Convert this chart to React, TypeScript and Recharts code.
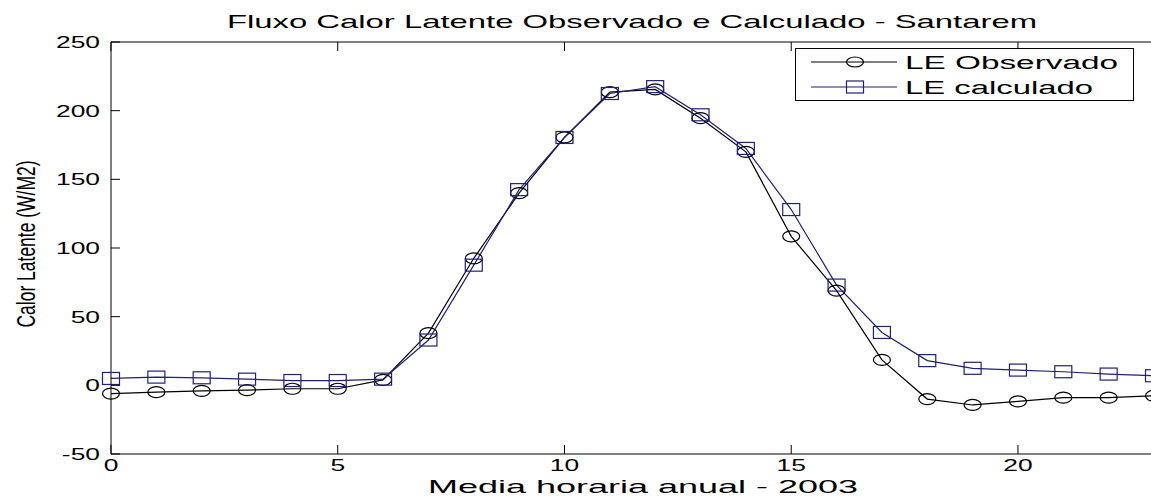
import React from "react";
import { LineChart, Line, XAxis, YAxis } from "recharts";

const hours = [0, 1, 2, 3, 4, 5, 6, 7, 8, 9, 10, 11, 12, 13, 14, 15, 16, 17, 18, 19, 20, 21, 22, 23];
const observed = [-6, -5, -4, -3.5, -2.5, -2.5, 4, 38, 92.5, 140, 180.5, 213.5, 215.5, 194.5, 170, 108.5, 69, 18.5, -10, -14.3, -11.7, -9, -9, -7.6];
const calculated = [5, 6, 5.5, 4.5, 3.5, 3.5, 4.5, 33, 87.5, 142.5, 180.5, 212.5, 217.5, 197, 172.5, 128, 73, 38.5, 18, 12.4, 11.1, 9.9, 8.2, 7];
const xTicks = [0, 5, 10, 15, 20];
const yTicks = [-50, 0, 50, 100, 150, 200, 250];
const seriesNames = ["LE Observado", "LE calculado"];
const titleText = "Fluxo Calor Latente Observado e Calculado - Santarem";
const xLabelText = "Media horaria anual - 2003";
const yLabelText = "Calor Latente (W/M2)";

const data = hours.map((h, i) => ({ h, obs: observed[i], calc: calculated[i] }));

const FONT = "'Liberation Sans', Arial, sans-serif";
const BLACK = "#000000";
const NAVY = "#20207a";

const YTickLeft = (props: any) => {
  const { x, y, payload } = props;
  return (
    <g>
      <line x1={x} y1={y} x2={x + 9} y2={y} stroke={BLACK} strokeWidth={1} />
      <text
        transform={`translate(${x - 11},${y + 6}) scale(1.65,1)`}
        textAnchor="end"
        fontSize={16}
        fontFamily={FONT}
        fill={BLACK}
      >
        {payload.value}
      </text>
    </g>
  );
};

const YTickRight = (props: any) => {
  const { x, y } = props;
  return <line x1={x - 9} y1={y} x2={x} y2={y} stroke={BLACK} strokeWidth={1} />;
};

const XTickBottom = (props: any) => {
  const { x, y, payload } = props;
  return (
    <g>
      <line x1={x} y1={y} x2={x} y2={y - 9} stroke={BLACK} strokeWidth={1} />
      <text
        transform={`translate(${x},${y + 17}) scale(1.65,1)`}
        textAnchor="middle"
        fontSize={16}
        fontFamily={FONT}
        fill={BLACK}
      >
        {payload.value}
      </text>
    </g>
  );
};

const XTickTop = (props: any) => {
  const { x, y } = props;
  return <line x1={x} y1={y} x2={x} y2={y + 9} stroke={BLACK} strokeWidth={1} />;
};

const CircleDot = (props: any) => {
  const { cx, cy, index } = props;
  if (cx == null || cy == null) return <g key={`c${index}`} />;
  return <ellipse key={`c${index}`} cx={cx} cy={cy} rx={8.5} ry={5.5} fill="none" stroke={BLACK} strokeWidth={1.2} />;
};

const SquareDot = (props: any) => {
  const { cx, cy, index } = props;
  if (cx == null || cy == null) return <g key={`s${index}`} />;
  return <rect key={`s${index}`} x={cx - 8.5} y={cy - 6} width={17} height={12} fill="none" stroke={NAVY} strokeWidth={1.2} />;
};

export default function App() {
  return (
    <div
      style={{
        position: "fixed",
        left: 0,
        top: 0,
        width: 1151,
        height: 497,
        overflow: "hidden",
        background: "#ffffff",
      }}
    >
      <LineChart
        width={1160}
        height={497}
        data={data}
        margin={{ top: 41, left: 110, right: 5, bottom: 42 }}
      >
        <XAxis
          dataKey="h"
          type="number"
          domain={[0, 23]}
          ticks={xTicks}
          height={1}
          tickSize={0}
          tickMargin={0}
          tickLine={false}
          axisLine={{ stroke: BLACK, strokeWidth: 1 }}
          tick={<XTickBottom />}
          interval={0}
        />
        <XAxis
          xAxisId="top"
          orientation="top"
          dataKey="h"
          type="number"
          domain={[0, 23]}
          ticks={xTicks}
          height={1}
          tickSize={0}
          tickMargin={0}
          tickLine={false}
          axisLine={{ stroke: BLACK, strokeWidth: 1 }}
          tick={<XTickTop />}
          interval={0}
        />
        <YAxis
          type="number"
          domain={[-50, 250]}
          ticks={yTicks}
          width={1}
          tickSize={0}
          tickMargin={0}
          tickLine={false}
          axisLine={{ stroke: BLACK, strokeWidth: 1 }}
          tick={<YTickLeft />}
          interval={0}
        />
        <YAxis
          yAxisId="right"
          orientation="right"
          type="number"
          domain={[-50, 250]}
          ticks={yTicks}
          width={1}
          tickSize={0}
          tickMargin={0}
          tickLine={false}
          axisLine={{ stroke: BLACK, strokeWidth: 1 }}
          tick={<YTickRight />}
          interval={0}
        />
        <Line
          dataKey="obs"
          name={seriesNames[0]}
          stroke={BLACK}
          strokeWidth={1.2}
          dot={<CircleDot />}
          activeDot={false}
          isAnimationActive={false}
          type="linear"
        />
        <Line
          dataKey="calc"
          name={seriesNames[1]}
          stroke={NAVY}
          strokeWidth={1.2}
          dot={<SquareDot />}
          activeDot={false}
          isAnimationActive={false}
          type="linear"
        />
      </LineChart>
      <svg
        width={1151}
        height={497}
        style={{ position: "absolute", left: 0, top: 0, pointerEvents: "none" }}
      >
        <text
          x={632}
          y={28}
          textAnchor="middle"
          fontSize={18.5}
          fontFamily={FONT}
          fill={BLACK}
          textLength={810}
          lengthAdjust="spacingAndGlyphs"
        >
          {titleText}
        </text>
        <text
          x={643}
          y={493}
          textAnchor="middle"
          fontSize={18.5}
          fontFamily={FONT}
          fill={BLACK}
          textLength={430}
          lengthAdjust="spacingAndGlyphs"
        >
          {xLabelText}
        </text>
        <text
          transform="translate(26,244) scale(1.5,1) rotate(-90)"
          textAnchor="middle"
          dominantBaseline="central"
          fontSize={17.5}
          fontFamily={FONT}
          fill={BLACK}
        >
          {yLabelText}
        </text>
        <g>
          <rect x={795.5} y={48.5} width={338} height={52} fill="#ffffff" stroke={BLACK} strokeWidth={1} />
          <line x1={811} y1={62} x2={897} y2={62} stroke={BLACK} strokeWidth={1.2} />
          <ellipse cx={855} cy={62} rx={8.5} ry={5} fill="none" stroke={BLACK} strokeWidth={1.2} />
          <text x={905} y={69} fontSize={18} fontFamily={FONT} fill={BLACK} textLength={213} lengthAdjust="spacingAndGlyphs">
            {seriesNames[0]}
          </text>
          <line x1={811} y1={87} x2={897} y2={87} stroke={NAVY} strokeWidth={1.2} />
          <rect x={846.5} y={81} width={17} height={12} fill="none" stroke={NAVY} strokeWidth={1.2} />
          <text x={905} y={94} fontSize={18} fontFamily={FONT} fill={BLACK} textLength={188} lengthAdjust="spacingAndGlyphs">
            {seriesNames[1]}
          </text>
        </g>
      </svg>
    </div>
  );
}
